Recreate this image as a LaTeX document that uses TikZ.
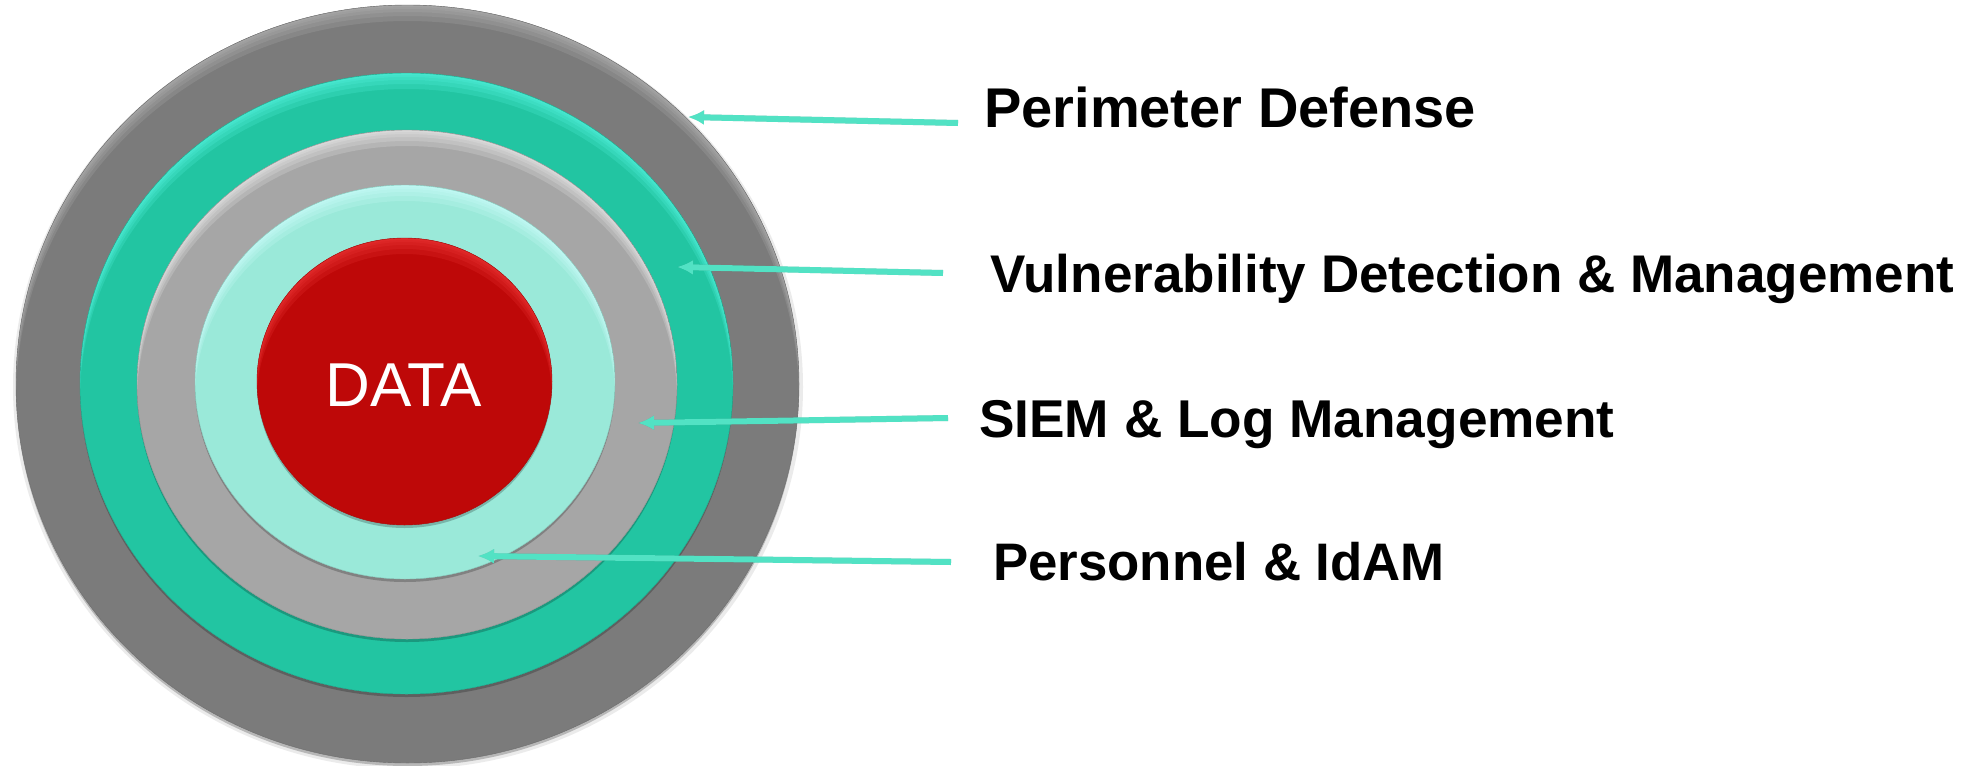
\documentclass[tikz,border=0pt]{standalone}
\usepackage{fontspec}
\setmainfont{Liberation Sans}
\usetikzlibrary{arrows.meta}
\definecolor{ogray}{HTML}{7B7B7B}
\definecolor{ograyhi}{HTML}{B8B8B8}
\definecolor{teal1}{HTML}{22C5A2}
\definecolor{teal1hi}{HTML}{5AF8E6}
\definecolor{lgray}{HTML}{A6A6A6}
\definecolor{lgrayhi}{HTML}{F2F2F2}
\definecolor{lteal}{HTML}{9AE9D9}
\definecolor{ltealhi}{HTML}{D2FFFF}
\definecolor{datared}{HTML}{BE0808}
\definecolor{dataredhi}{HTML}{F23A3A}
\definecolor{arrowc}{HTML}{52E2C4}
\newcommand\bevdisk[6]{%
  \fill[black,opacity=0.22] (#1,#2+3) ellipse [x radius=#3pt, y radius=#4pt];
  \fill[#5] (#1,#2) ellipse [x radius=#3pt, y radius=#4pt];
  \begin{scope}
    \clip (#1,#2) ellipse [x radius=#3pt, y radius=#4pt];
    \foreach \d in {2,4,7,11,16}{
      \fill[#6,opacity=0.2,even odd rule] (#1,#2) ellipse [x radius=#3pt, y radius=#4pt]
        (#1,#2+\d) ellipse [x radius=#3pt, y radius=#4pt];
    }
  \end{scope}
  \draw[#5!85!black, line width=0.4pt] (#1,#2) ellipse [x radius=#3pt, y radius=#4pt];
}
\begin{document}
\begin{tikzpicture}[x=1pt,y=-1pt,
  lab/.style={anchor=base west, inner sep=0pt, text=black},
  arr/.style={draw=arrowc, line width=6pt, -{Latex[length=16pt,width=15pt]}},
  arrsh/.style={draw=black, opacity=0.16, line width=6pt, -{Latex[length=16pt,width=15pt]}, shift={(1,3)}}]
\useasboundingbox (0,0) rectangle (1974,766);
\fill[white] (0,0) rectangle (1974,766);
% soft outer shadow
\fill[black,opacity=0.08] (408,387) ellipse [x radius=395pt, y radius=382pt];
\bevdisk{407.5}{384}{391.5}{379}{ogray}{ograyhi}
\bevdisk{406.5}{383.5}{326.5}{310.5}{teal1}{teal1hi}
\bevdisk{407}{384.5}{270}{254.5}{lgray}{lgrayhi}
\bevdisk{405}{382}{210}{197}{lteal}{ltealhi}
\bevdisk{404.5}{381.5}{147.5}{143.5}{datared}{dataredhi}
\node[inner sep=0pt, text=white, font=\fontsize{62pt}{66pt}\selectfont] (data) at (404,385) {DATA};
% labels
\node[lab, font=\fontsize{56pt}{60pt}\selectfont\bfseries] (lab1) at (984,127) {Perimeter Defense};
\node[lab, font=\fontsize{53pt}{58pt}\selectfont\bfseries] (lab2) at (990,292) {Vulnerability Detection \& Management};
\node[lab, font=\fontsize{53.2pt}{58pt}\selectfont\bfseries] (lab3) at (979,437) {SIEM \& Log Management};
\node[lab, font=\fontsize{52.8pt}{58pt}\selectfont\bfseries] (lab4) at (993,580) {Personnel \& IdAM};
% arrow ends
\coordinate (tail1) at (958,123);
\coordinate (tip1) at (688,117);
\coordinate (tail2) at (943,273);
\coordinate (tip2) at (677,267);
\coordinate (tail3) at (948,418);
\coordinate (tip3) at (638,423);
\coordinate (tail4) at (951,562);
\coordinate (tip4) at (478,556);
\foreach \i in {1,2,3,4}{
  \draw[arrsh] (tail\i) -- (tip\i);
  \draw[arr] (tail\i) -- (tip\i);
}
\end{tikzpicture}
\end{document}
